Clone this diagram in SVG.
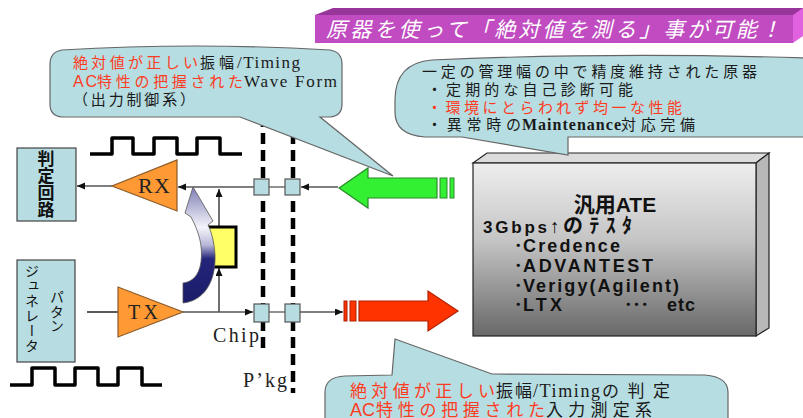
<svg xmlns="http://www.w3.org/2000/svg" width="803" height="418" viewBox="0 0 803 418">
  <defs>
    <style>
      .jp { font-family: "Noto Sans CJK JP", "Noto Sans", sans-serif; }
      .ser { font-family: "Liberation Serif", "Noto Sans CJK JP", serif; }
      .sans { font-family: "Liberation Sans", "Noto Sans CJK JP", sans-serif; }
      .red { fill: #ff3b1f; }
      .blk { fill: #1a1a1a; }
      .bubble { fill: #b6dde1; stroke: #666; stroke-width: 1.2; }
      .pad { fill: #b7dde2; stroke: #555; stroke-width: 1.2; }
      .blockbox { fill: #b7dde2; stroke: #444; stroke-width: 1.2; }
      .amp { fill: #ff9933; stroke: #8a5a2a; stroke-width: 1.2; }
      .wire { fill: none; stroke: #555; stroke-width: 1.3; }
      .vwire { fill: none; stroke: #222; stroke-width: 1.3; }
      .dash { fill: none; stroke: #000; stroke-width: 4.5; stroke-dasharray: 11 6; }
      .wave { fill: none; stroke: #000; stroke-width: 3.5; stroke-linejoin: round; }
      .ate { font-family: "Liberation Sans", "Noto Sans CJK JP", sans-serif; font-weight: bold; fill: #111; }
    </style>
    <marker id="arr" markerUnits="userSpaceOnUse" markerWidth="9" markerHeight="8" refX="8" refY="3.5" orient="auto">
      <path d="M0,0 L8,3.5 L0,7 Z" fill="#111"/>
    </marker>
    <linearGradient id="ateFront" x1="0" y1="0" x2="0" y2="1">
      <stop offset="0" stop-color="#eeeeee"/>
      <stop offset="0.45" stop-color="#c4c4c4"/>
      <stop offset="1" stop-color="#686868"/>
    </linearGradient>
    <linearGradient id="loopGrad" x1="0" y1="0" x2="0" y2="1">
      <stop offset="0" stop-color="#7e7eb6"/>
      <stop offset="0.35" stop-color="#f4f4fa"/>
      <stop offset="0.5" stop-color="#b8b8d8"/>
      <stop offset="0.62" stop-color="#24247a"/>
      <stop offset="1" stop-color="#1c1c6a"/>
    </linearGradient>
  </defs>

  <rect x="0" y="0" width="803" height="418" fill="#ffffff"/>

  <!-- title banner -->
  <g id="banner">
    <polygon points="315,15 333,8 803,8 803,15" fill="#98359a"/>
    <rect x="315" y="15" width="478" height="28" fill="#c14bc1"/>
    <polygon points="793,15 803,8 803,36 793,43" fill="#e062e0"/>
    <text x="326" y="37" class="jp" font-size="21" font-style="italic" fill="#ffffff" textLength="455" lengthAdjust="spacing">原器を使って「絶対値を測る」事が可能！</text>
  </g>

  <!-- package / chip boundaries -->
  <g id="boundaries">
    <line x1="263" y1="116" x2="263" y2="352" class="dash"/>
    <line x1="293" y1="116" x2="293" y2="393" class="dash"/>
    <text x="213" y="342" class="ser" font-size="20" fill="#222" textLength="46" lengthAdjust="spacing">Chip</text>
    <text x="243" y="387" class="ser" font-size="20" fill="#222" textLength="44" lengthAdjust="spacing">P’kg</text>
  </g>

  <!-- waveforms -->
  <g id="waves">
    <path class="wave" d="M90 154 H112 V138 H133 V154 H154 V138 H177 V154 H197 V138 H220 V154 H242"/>
    <path class="wave" d="M10 385 H32 V368 H55 V385 H75 V368 H98 V385 H118 V368 H142 V385 H162"/>
  </g>

  <!-- connectors -->
  <g id="connectors">
    <line x1="112" y1="186" x2="77" y2="186" class="wire" marker-end="url(#arr)"/>
    <line x1="254" y1="187" x2="178" y2="187" class="wire" marker-end="url(#arr)"/>
    <line x1="269" y1="187" x2="285" y2="187" class="wire"/>
    <line x1="338" y1="187" x2="301" y2="187" class="wire" marker-end="url(#arr)"/>
    <line x1="219" y1="227" x2="219" y2="189" class="vwire" marker-end="url(#arr)"/>
    <line x1="219" y1="312" x2="219" y2="268" class="vwire" marker-end="url(#arr)"/>
    <line x1="87" y1="312" x2="127" y2="312" class="vwire" marker-end="url(#arr)"/>
    <line x1="183" y1="312" x2="253" y2="312" class="wire" marker-end="url(#arr)"/>
    <line x1="269" y1="312" x2="285" y2="312" class="wire"/>
    <line x1="300" y1="312" x2="343" y2="312" class="wire" marker-end="url(#arr)"/>
  </g>

  <!-- judgement circuit -->
  <g id="judge">
    <rect x="17" y="148" width="59" height="73" class="blockbox"/>
    <text x="46" y="150" class="jp" font-size="17" font-weight="bold" fill="#111" style="writing-mode: vertical-rl">判定回路</text>
  </g>

  <!-- pattern generator -->
  <g id="patgen">
    <rect x="17" y="260" width="58" height="102" class="blockbox"/>
    <text x="57" y="290" class="jp" font-size="14" fill="#111" letter-spacing="0.5" style="writing-mode: vertical-rl">パタン</text>
    <text x="32" y="264" class="jp" font-size="14" fill="#111" letter-spacing="1" style="writing-mode: vertical-rl">ジュネレータ</text>
  </g>

  <!-- receiver -->
  <g id="rx">
    <polygon points="177,160 177,211 112,186" class="amp"/>
    <text x="138" y="193" class="ser" font-size="22" fill="#222" textLength="32" lengthAdjust="spacing">RX</text>
  </g>

  <!-- transmitter -->
  <g id="tx">
    <polygon points="118,287 118,337 183,312" class="amp"/>
    <text x="128" y="319" class="ser" font-size="20" fill="#222" textLength="30" lengthAdjust="spacing">TX</text>
  </g>

  <!-- loopback element -->
  <g id="loop">
    <rect x="205" y="227" width="31" height="40" fill="#ffff66" stroke="#000" stroke-width="3"/>
    <path d="M183 303 C203 301 216 283 215 255 C214 240 211 231 208 225 L213 221 L193 187 L185 213 L191 217 C199 232 203 246 201 262 C199 276 192 282 183 283 Z" fill="url(#loopGrad)" stroke="#555" stroke-width="0.8"/>
  </g>

  <!-- pads -->
  <g id="pads">
    <rect x="254" y="179" width="15" height="16" class="pad"/>
    <rect x="285" y="179" width="15" height="16" class="pad"/>
    <rect x="254" y="304" width="15" height="18" class="pad"/>
    <rect x="285" y="304" width="15" height="18" class="pad"/>
  </g>

  <!-- input stream from tester -->
  <g id="rxStream">
    <polygon points="339,188 368,168 368,178 437,178 437,198 368,198 368,208" fill="#33f033" stroke="#2a8a2a" stroke-width="1.2"/>
    <rect x="440" y="178" width="7" height="20" fill="#33f033" stroke="#2a8a2a" stroke-width="1"/>
    <rect x="450" y="178" width="4" height="20" fill="#33f033" stroke="#2a8a2a" stroke-width="1"/>
  </g>

  <!-- output stream to tester -->
  <g id="txStream">
    <rect x="344" y="301" width="3" height="20" fill="#ff3300" stroke="#b02000" stroke-width="1"/>
    <rect x="350" y="301" width="6" height="20" fill="#ff3300" stroke="#b02000" stroke-width="1"/>
    <polygon points="359,301 428,301 428,291 458,311 428,331 428,321 359,321" fill="#ff3300" stroke="#b02000" stroke-width="1.2"/>
  </g>

  <!-- ATE -->
  <g id="ate">
    <polygon points="473,163 487,153 769,153 756,163" fill="#dcdcdc" stroke="#222" stroke-width="1.2"/>
    <polygon points="756,163 769,153 769,328 756,336" fill="#b8b8b8" stroke="#222" stroke-width="1.2"/>
    <rect x="473" y="163" width="283" height="173" fill="url(#ateFront)" stroke="#222" stroke-width="1.2"/>
    <text x="615" y="212" class="ate" font-size="21" text-anchor="middle">汎用ATE</text>
    <text y="233" class="ate" font-size="17">
      <tspan x="483" textLength="64" lengthAdjust="spacing">3Gbps</tspan><tspan x="550" font-size="19">↑</tspan><tspan x="563" font-size="20" textLength="69" lengthAdjust="spacing">のﾃｽﾀ</tspan>
    </text>
    <text x="514" y="252" class="ate" font-size="17">･</text>
    <text x="523" y="252" class="ate" font-size="18" textLength="97" lengthAdjust="spacing">Credence</text>
    <text x="514" y="272" class="ate" font-size="17">･</text>
    <text x="523" y="272" class="ate" font-size="18" textLength="130" lengthAdjust="spacing">ADVANTEST</text>
    <text x="514" y="292" class="ate" font-size="17">･</text>
    <text x="523" y="292" class="ate" font-size="18" textLength="156" lengthAdjust="spacing">Verigy(Agilent)</text>
    <text x="514" y="311" class="ate" font-size="17">･</text>
    <text x="523" y="311" class="ate" font-size="18" textLength="39" lengthAdjust="spacing">LTX</text>
    <text x="624" y="311" class="ate" font-size="17" textLength="25" lengthAdjust="spacing">･･･</text>
    <text x="667" y="311" class="ate" font-size="18" textLength="28" lengthAdjust="spacing">etc</text>
  </g>

  <!-- callout: output waveform -->
  <g id="calloutOut">
    <path class="bubble" d="M62 50 Q196 42 330 50 Q342 52 342 64 L342 104 Q342 116 330 117 L320 117 L393 176 L240 117 L62 117 Q50 116 50 104 L50 64 Q50 52 62 50 Z"/>
    <text y="68" font-size="15">
      <tspan x="73" class="jp red" textLength="125" lengthAdjust="spacing">絶対値が正しい</tspan><tspan x="200" class="jp blk" textLength="34" lengthAdjust="spacing">振幅</tspan><tspan x="237" class="ser blk" font-size="17" textLength="63" lengthAdjust="spacing">/Timing</tspan>
    </text>
    <text y="87" font-size="15">
      <tspan x="73" class="sans red" font-size="16" textLength="24" lengthAdjust="spacing">AC</tspan><tspan x="97" class="jp red" textLength="146" lengthAdjust="spacing">特性の把握された</tspan><tspan x="244" class="ser blk" font-size="17" textLength="93" lengthAdjust="spacing">Wave Form</tspan>
    </text>
    <text x="73" y="105" class="jp blk" font-size="15" textLength="122" lengthAdjust="spacing">（出力制御系）</text>
  </g>

  <!-- callout: reference tester -->
  <g id="calloutRef">
    <path class="bubble" d="M395 100 Q395 63 432 60 Q610 52 810 58 L810 137 L568 137 L568 155 L462 137 L425 137 Q395 135 395 112 Z"/>
    <text x="422" y="77" class="jp blk" font-size="15" textLength="335" lengthAdjust="spacing">一定の管理幅の中で精度維持された原器</text>
    <text x="427" y="95" class="jp blk" font-size="15" textLength="206" lengthAdjust="spacing">・定期的な自己診断可能</text>
    <text x="427" y="113" class="jp red" font-size="15" textLength="255" lengthAdjust="spacing">・環境にとらわれず均一な性能</text>
    <text y="130" font-size="15">
      <tspan x="427" class="jp blk" textLength="94" lengthAdjust="spacing">・異常時の</tspan><tspan x="522" class="ser blk" font-weight="bold" font-size="16" textLength="99" lengthAdjust="spacing">Maintenance</tspan><tspan x="621" class="jp blk" textLength="74" lengthAdjust="spacing">対応完備</tspan>
    </text>
  </g>

  <!-- callout: input measurement -->
  <g id="calloutIn">
    <path class="bubble" d="M325 425 L325 392 Q325 377 345 376 L392 375 L395 339 L492 374 L705 375 Q728 377 728 392 L728 425 Z"/>
    <text y="397" font-size="17">
      <tspan x="350" class="jp red" textLength="145" lengthAdjust="spacing">絶対値が正しい</tspan><tspan x="496" class="jp blk" textLength="36" lengthAdjust="spacing">振幅</tspan><tspan x="533" class="ser blk" font-size="18" textLength="67" lengthAdjust="spacing">/Timing</tspan><tspan x="602" class="jp blk" textLength="68" lengthAdjust="spacing">の判定</tspan>
    </text>
    <text y="416" font-size="17">
      <tspan x="350" class="sans red" font-size="18" textLength="25" lengthAdjust="spacing">AC</tspan><tspan x="376" class="jp red" textLength="169" lengthAdjust="spacing">特性の把握された</tspan><tspan x="546" class="jp blk" textLength="106" lengthAdjust="spacing">入力測定系</tspan>
    </text>
  </g>
</svg>
